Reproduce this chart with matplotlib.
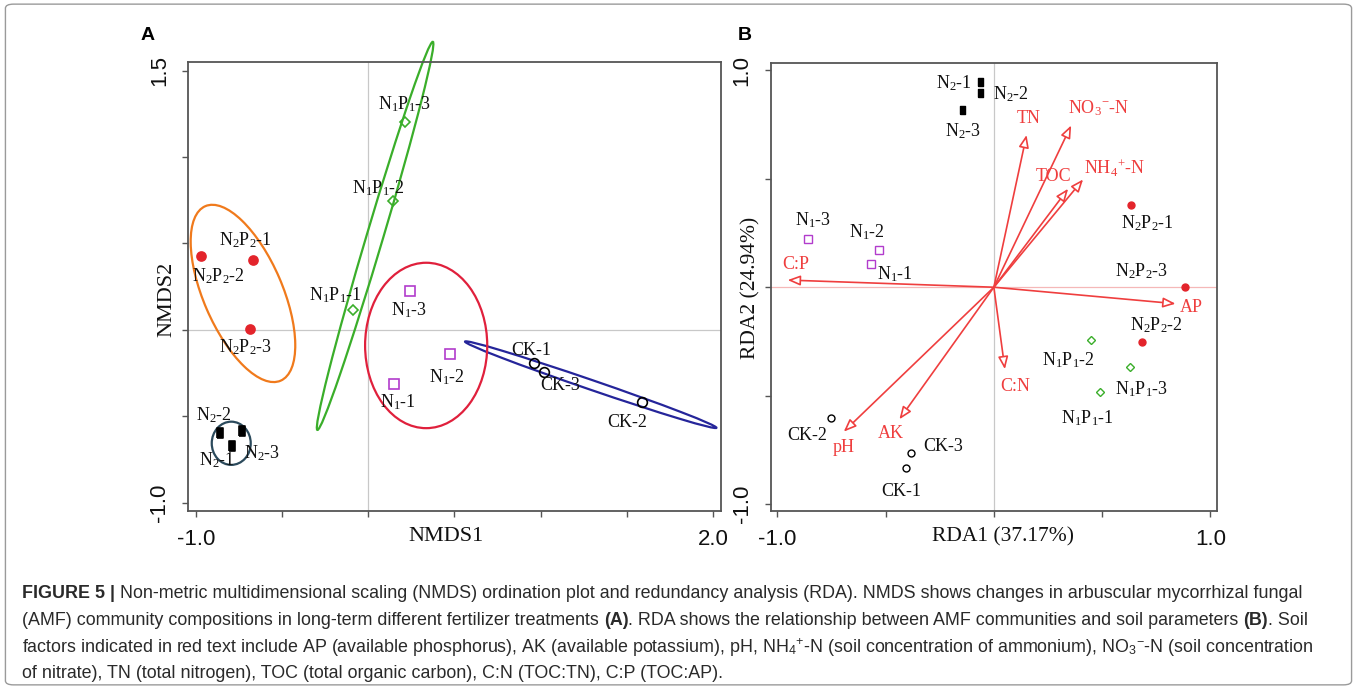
import matplotlib
matplotlib.use("Agg")
import matplotlib.pyplot as plt
from matplotlib.patches import Ellipse, FancyBboxPatch
from matplotlib import font_manager
import matplotlib.transforms as mtransforms

plt.rcParams['mathtext.fontset'] = 'custom'
plt.rcParams['mathtext.rm'] = 'Liberation Serif'
plt.rcParams['mathtext.it'] = 'Liberation Serif:italic'
plt.rcParams['mathtext.bf'] = 'Liberation Serif:bold'
plt.rcParams['mathtext.sf'] = 'Liberation Sans'

# ---- data: NMDS (panel A), sample order -1, -2, -3
ck_nmds = [(0.960, -0.190), (1.589, -0.420), (1.018, -0.241)]
n1_nmds = [(0.147, -0.312), (0.475, -0.137), (0.243, 0.225)]
n2_nmds = [(-0.790, -0.670), (-0.859, -0.595), (-0.732, -0.583)]
n1p1_nmds = [(-0.087, 0.114), (0.143, 0.743), (0.212, 1.202)]
n2p2_nmds = [(-0.665, 0.406), (-0.967, 0.427), (-0.685, 0.004)]

# group ellipses: centre x, centre y, width, height, angle
ellipse_ck = (1.290, -0.317, 1.540, 0.056, -18.9)
ellipse_n1 = (0.336, -0.090, 0.708, 0.957, 0.0)
ellipse_n2 = (-0.794, -0.656, 0.226, 0.250, 0.0)
ellipse_n1p1 = (0.040, 0.544, 2.343, 0.096, 73.4)
ellipse_n2p2 = (-0.726, 0.211, 1.100, 0.458, -66.6)

# ---- data: RDA (panel B)
ck_rda = [(-0.405, -0.834), (-0.751, -0.601), (-0.381, -0.764)]
n1_rda = [(-0.569, 0.107), (-0.531, 0.173), (-0.859, 0.224)]
n2_rda = [(-0.062, 0.948), (-0.062, 0.897), (-0.146, 0.816)]
n1p1_rda = [(0.492, -0.482), (0.447, -0.243), (0.627, -0.367)]
n2p2_rda = [(0.634, 0.380), (0.682, -0.252), (0.882, 0.000)]

env_names = ['TN', r'NO$_3$$^{-}$-N', 'TOC', r'NH$_4$$^{+}$-N', 'C:P', 'AP', 'C:N', 'pH', 'AK']
env_x = [0.151, 0.357, 0.343, 0.412, -0.952, 0.839, 0.051, -0.693, -0.436]
env_y = [0.702, 0.746, 0.454, 0.497, 0.033, -0.076, -0.378, -0.666, -0.609]

# ---- label placement (layout)
lab_a = {
    'CK': [(0.946, -0.118), (1.500, -0.533), (1.114, -0.324)],
    'N1': [(0.170, -0.418), (0.455, -0.275), (0.237, 0.112)],
    'N2': [(-0.878, -0.753), (-0.895, -0.492), (-0.617, -0.714)],
    'N1P1': [(-0.192, 0.202), (0.060, 0.820), (0.210, 1.304)],
    'N2P2': [(-0.710, 0.520), (-0.866, 0.310), (-0.710, -0.102)],
}
lab_b = {
    'CK': [(-0.428, -0.940), (-0.864, -0.682), (-0.232, -0.733)],
    'N1': [(-0.456, 0.058), (-0.585, 0.252), (-0.833, 0.307)],
    'N2': [(-0.186, 0.943), (0.078, 0.890), (-0.140, 0.719)],
    'N1P1': [(0.430, -0.604), (0.345, -0.336), (0.684, -0.472)],
    'N2P2': [(0.707, 0.294), (0.749, -0.177), (0.680, 0.072)],
}
env_lab_x = [0.160, 0.485, 0.275, 0.556, -0.915, 0.913, 0.097, -0.693, -0.478]
env_lab_y = [0.780, 0.826, 0.509, 0.548, 0.107, -0.092, -0.456, -0.741, -0.675]

names = {'CK': 'CK', 'N1': r'N$_1$', 'N2': r'N$_2$',
         'N1P1': r'N$_1$P$_1$', 'N2P2': r'N$_2$P$_2$'}

red = '#e3242b'
green = '#3aae2a'
purple = '#b23ccc'
envred = '#ef3e3e'
rect = [(-0.3, -0.5), (0.3, -0.5), (0.3, 0.5), (-0.3, 0.5), (-0.3, -0.5)]

styles = {
    'CK': dict(marker='o', mfc='none', mec='black'),
    'N1': dict(marker='s', mfc='none', mec=purple),
    'N2': dict(marker=rect, mfc='black', mec='black'),
    'N1P1': dict(marker='D', mfc='none', mec=green),
    'N2P2': dict(marker='o', mfc=red, mec=red),
}
sizes_a = {'CK': 7, 'N1': 6.5, 'N2': 7, 'N1P1': 5, 'N2P2': 6.5}
sizes_b = {'CK': 5, 'N1': 5.5, 'N2': 6, 'N1P1': 4, 'N2P2': 5}

serif = 'Liberation Serif'
sans = 'Liberation Sans'

fig = plt.figure(figsize=(13.57, 6.89), dpi=100)

# outer frame
fig.patches.append(FancyBboxPatch((0.004, 0.006), 0.992, 0.988,
                                  boxstyle='round,pad=0,rounding_size=0.006',
                                  transform=fig.transFigure, fc='none',
                                  ec='#9a9a9a', lw=1.0))


def style_axes(ax, xt, yt, xlab, ylab):
    for s in ax.spines.values():
        s.set_color('#555555')
        s.set_linewidth(1.3)
    ax.set_xticks(xt)
    ax.set_yticks(yt)
    ax.set_xticklabels(xlab, fontsize=16, family=sans)
    ax.set_yticklabels(ylab, fontsize=16, family=sans, rotation=90, va='center')
    ax.tick_params(direction='out', length=4, color='#555555', width=1.0,
                   labelcolor='#111111')
    ax.tick_params(axis='x', pad=9)
    ax.tick_params(axis='y', pad=9)


# ---------------- panel A
axA = fig.add_axes([0.1385, 0.2583, 0.3928, 0.6517])
axA.set_xlim(-1.045, 2.045)
axA.set_ylim(-1.048, 1.550)
axA.axvline(0, color='#c8c8c8', lw=0.9, zorder=0)
axA.axhline(0, color='#c8c8c8', lw=0.9, zorder=0)

ell_colors = {'CK': '#25259a', 'N1': '#e0203c', 'N2': '#2b4a5c',
              'N1P1': '#3aae2a', 'N2P2': '#f07a1c'}
ells = {'CK': ellipse_ck, 'N1': ellipse_n1, 'N2': ellipse_n2,
        'N1P1': ellipse_n1p1, 'N2P2': ellipse_n2p2}
for g, (cx, cy, w, h, ang) in ells.items():
    axA.add_patch(Ellipse((cx, cy), w, h, angle=ang, fc='none',
                          ec=ell_colors[g], lw=1.6, clip_on=False, zorder=2))

nmds = {'CK': ck_nmds, 'N1': n1_nmds, 'N2': n2_nmds,
        'N1P1': n1p1_nmds, 'N2P2': n2p2_nmds}
for g, pts in nmds.items():
    xs = [p[0] for p in pts]
    ys = [p[1] for p in pts]
    axA.plot(xs, ys, ls='none', ms=sizes_a[g], mew=1.2, zorder=3, **styles[g])
    for i, (lx, ly) in enumerate(lab_a[g]):
        axA.text(lx, ly, names[g] + '-%d' % (i + 1), fontsize=13, family=serif,
                 ha='center', va='center', color='#111111', zorder=4)

style_axes(axA, [-1.0, -0.5, 0, 0.5, 1.0, 1.5, 2.0],
           [-1.0, -0.5, 0, 0.5, 1.0, 1.5],
           ['-1.0', '', '', '', '', '', '2.0'],
           ['-1.0', '', '', '', '', '1.5'])
axA.text(0.484, -0.057, 'NMDS1', transform=axA.transAxes, fontsize=16,
         family=serif, ha='center', va='center', color='#111111')
axA.text(-0.040, 0.472, 'NMDS2', transform=axA.transAxes, fontsize=16,
         family=serif, ha='center', va='center', rotation=90, color='#111111')

# ---------------- panel B
axB = fig.add_axes([0.568, 0.2583, 0.3291, 0.6503])
axB.set_xlim(-1.030, 1.032)
axB.set_ylim(-1.032, 1.034)
axB.axvline(0, color='#c8c8c8', lw=0.9, zorder=0)
axB.axhline(0, color='#f5b8b8', lw=0.9, zorder=0)

for name, ex, ey, lx, ly in zip(env_names, env_x, env_y, env_lab_x, env_lab_y):
    axB.annotate('', xy=(ex, ey), xytext=(0, 0),
                 arrowprops=dict(arrowstyle='-|>,head_length=0.75,head_width=0.3',
                                 color=envred, fc='white', lw=1.2,
                                 shrinkA=0, shrinkB=0), zorder=2)
    axB.text(lx, ly, name, fontsize=13, family=serif, color=envred,
             ha='center', va='center', zorder=4)

rda = {'CK': ck_rda, 'N1': n1_rda, 'N2': n2_rda,
       'N1P1': n1p1_rda, 'N2P2': n2p2_rda}
for g, pts in rda.items():
    xs = [p[0] for p in pts]
    ys = [p[1] for p in pts]
    axB.plot(xs, ys, ls='none', ms=sizes_b[g], mew=1.0, zorder=3, **styles[g])
    for i, (lx, ly) in enumerate(lab_b[g]):
        axB.text(lx, ly, names[g] + '-%d' % (i + 1), fontsize=13, family=serif,
                 ha='center', va='center', color='#111111', zorder=4)

style_axes(axB, [-1.0, -0.5, 0, 0.5, 1.0], [-1.0, -0.5, 0, 0.5, 1.0],
           ['-1.0', '', '', '', '1.0'], ['-1.0', '', '', '', '1.0'])
axB.text(0.52, -0.057, 'RDA1 (37.17%)', transform=axB.transAxes, fontsize=15.5,
         family=serif, ha='center', va='center', color='#111111')
axB.text(-0.045, 0.499, 'RDA2 (24.94%)', transform=axB.transAxes, fontsize=15.5,
         family=serif, ha='center', va='center', rotation=90, color='#111111')

# panel letters
fig.text(148 / 1357, 1 - 35 / 689, 'A', fontsize=14, fontweight='bold',
         family=sans, ha='center', va='center')
fig.text(745 / 1357, 1 - 35 / 689, 'B', fontsize=14, fontweight='bold',
         family=sans, ha='center', va='center')

# ---------------- caption
avail = {f.name for f in font_manager.fontManager.ttflist}
cap_font = 'Liberation Sans Narrow' if 'Liberation Sans Narrow' in avail else sans
B, N = 'bold', 'normal'
cap_lines = [
    [('FIGURE 5 |', B), (' Non-metric multidimensional scaling (NMDS) ordination plot and '
                         'redundancy analysis (RDA). NMDS shows changes in arbuscular mycorrhizal fungal', N)],
    [('(AMF) community compositions in long-term different fertilizer treatments ', N), ('(A)', B),
     ('. RDA shows the relationship between AMF communities and soil parameters ', N), ('(B)', B),
     ('. Soil', N)],
    [('factors indicated in red text include AP (available phosphorus), AK (available potassium), pH, '
      r'NH$_\mathsf{4}$$^\mathsf{+}$-N (soil concentration of ammonium), '
      r'NO$_\mathsf{3}$$^\mathsf{-}$-N (soil concentration', N)],
    [('of nitrate), TN (total nitrogen), TOC (total organic carbon), C:N (TOC:TN), C:P (TOC:AP).', N)],
]
cap_baselines = [598, 625, 652, 678]

renderer = fig.canvas.get_renderer()
ident = mtransforms.IdentityTransform()


def draw_line(parts, y, size, dry=False):
    x = 22
    made = []
    for s, w in parts:
        t = fig.text(x, 689 - y, s, fontsize=size, fontweight=w, family=cap_font,
                     color='#2a2a2a', transform=ident, ha='left', va='baseline')
        x += t.get_window_extent(renderer).width
        made.append(t)
    if dry:
        for t in made:
            t.remove()
    return x - 22


w1 = draw_line(cap_lines[0], cap_baselines[0], 12, dry=True)
cap_size = 12 * 1276 / w1
for parts, yb in zip(cap_lines, cap_baselines):
    draw_line(parts, yb, cap_size)

fig.savefig('out.png', dpi=100)
